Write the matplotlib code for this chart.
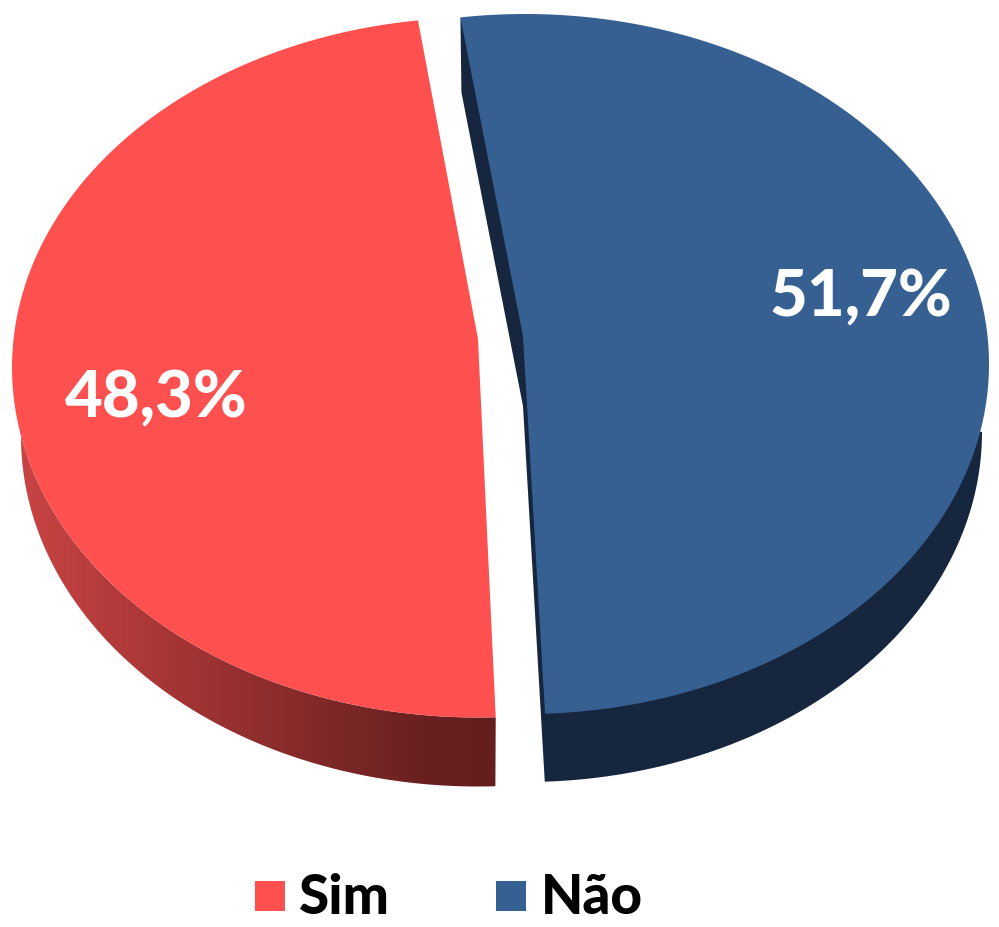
import numpy as np
import matplotlib
matplotlib.use("Agg")
import matplotlib.pyplot as plt
from matplotlib.patches import Polygon, Rectangle
from matplotlib.colors import LinearSegmentedColormap

# Data
categories = ["Sim", "Não"]
values = [48.3, 51.7]

# Styles
RED, BLUE = "#FF5050", "#376092"
NAVY = "#16263F"
FONT = "Lato"
W, H = 999, 928
START = -8.0  # clockwise from 12 o'clock, where the "Não" slice begins
TOP_RX, WALL_RX, RY = {"Sim": 466, "Não": 464}, 457, 350
CENTER = {"Sim": (478, 368.5), "Não": (525, 365)}
DEPTH = 69
VERTEX = {"Sim": (478, 340), "Não": (523, 337)}
# small corrections for the exploded slices' perspective, in degrees
NAO_END_SKEW, SIM_START_SKEW, SIM_END_SKEW = -0.6, -0.3, 0.9

fig = plt.figure(figsize=(W / 100, H / 100), dpi=100)
ax = fig.add_axes([0, 0, 1, 1])


def arc(center, rx, ry, a0, a1, n=240):
    t = np.radians(np.linspace(a0, a1, n))
    return np.column_stack([center[0] + rx * np.sin(t), center[1] - ry * np.cos(t)])


sweep = {c: v / sum(values) * 360 for c, v in zip(categories, values)}
nao0, nao1 = START, START + sweep["Não"] + NAO_END_SKEW
sim0 = START + sweep["Não"] + SIM_START_SKEW
sim1 = sim0 + sweep["Sim"] + SIM_END_SKEW

# Red wall with a horizontal gradient
c = CENTER["Sim"]
red_bottom = arc((c[0], c[1] + DEPTH), WALL_RX, RY, sim0, 270)
red_top = arc(c, TOP_RX["Sim"], RY, 270, sim0)
red_wall = Polygon(np.vstack([red_bottom, red_top]), closed=True, fc="none", ec="none")
ax.add_patch(red_wall)
cmap = LinearSegmentedColormap.from_list(
    "wall",
    [(0.0, "#C84444"), (0.3, "#A83636"), (0.65, "#7E2828"), (0.85, "#6A2020"), (1.0, "#641E1E")],
)
im = ax.imshow(
    np.linspace(0, 1, 256)[None, :], cmap=cmap, vmin=0, vmax=1, aspect="auto",
    extent=(20, 496, 800, 380), zorder=1,
)
im.set_clip_path(red_wall)

# Blue wall, including the strip visible along the cut
c = CENTER["Não"]
v = VERTEX["Não"]
blue_bottom = arc((c[0], c[1] + DEPTH - 1), WALL_RX, RY, nao1, 90)
blue_top_start = arc(c, TOP_RX["Não"], RY, nao0, nao0 + 0.01, 2)[0]
strip = np.array([
    blue_top_start,
    (blue_top_start[0] + 1, blue_top_start[1] + 75),
    (v[0], v[1] + 70),
])
ax.add_patch(Polygon(np.vstack([strip, blue_bottom, [c[0] + 100, c[1]]]), closed=True,
                     fc=NAVY, ec="none", zorder=1))

# Top faces
for name, a0, a1, col in (("Sim", sim0, sim1, RED), ("Não", nao0, nao1, BLUE)):
    pts = arc(CENTER[name], TOP_RX[name], RY, a0, a1)
    ax.add_patch(Polygon(np.vstack([pts, VERTEX[name]]), closed=True, fc=col, ec="none", zorder=2))

# Value labels
label_pos = {"Sim": (156, 417), "Não": (861, 316)}
for name, val in zip(categories, values):
    x, y = label_pos[name]
    ax.text(x, y, f"{val:.1f}%".replace(".", ","), color="white", fontsize=47, family=FONT,
            fontweight="black", ha="center", va="baseline", zorder=3)

# Legend
legend_x = {"Sim": (255, 299), "Não": (496, 541)}
for name, col in zip(categories, (RED, BLUE)):
    sx, tx = legend_x[name]
    ax.add_patch(Rectangle((sx, 882), 30, 30, fc=col, ec="none", zorder=3))
    ax.text(tx, 914, name, color="black", fontsize=39.5, family=FONT, fontweight="black",
            ha="left", va="baseline", zorder=3)

ax.set_xlim(0, W)
ax.set_ylim(H, 0)
ax.axis("off")
fig.savefig("out.png", dpi=100, facecolor="white")
